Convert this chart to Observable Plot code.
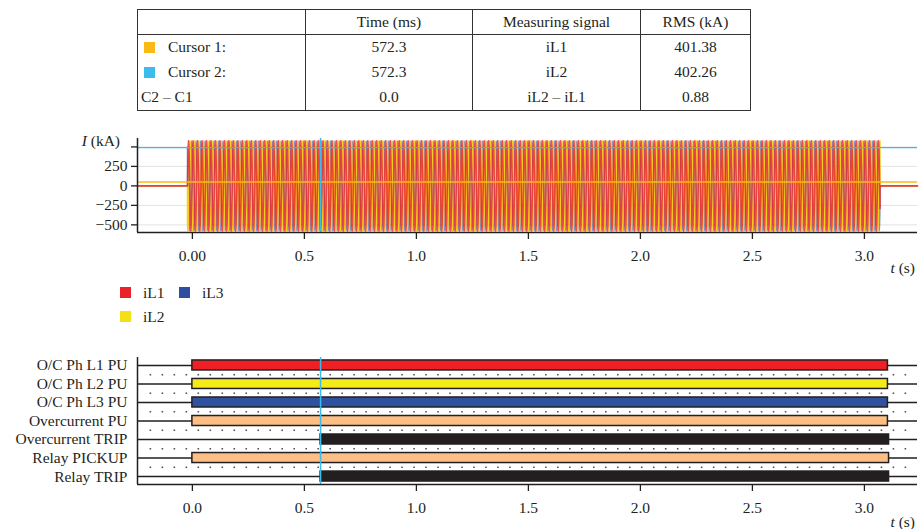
<!DOCTYPE html>
<html><head><meta charset="utf-8">
<script src="https://cdn.jsdelivr.net/npm/d3@7"></script>
<script src="https://cdn.jsdelivr.net/npm/@observablehq/plot@0.6"></script>
<style>
body{margin:0;background:#fff;font-family:"Liberation Serif","DejaVu Serif",serif;color:#231f20;}
#root{position:relative;width:919px;height:529px;overflow:hidden;background:#fff;}
.abs{position:absolute;}
#tbl{position:absolute;left:137px;top:9px;border-collapse:collapse;table-layout:fixed;font-size:15.5px;}
#tbl td{border-left:1.5px solid #333;border-right:1.5px solid #333;padding:0;text-align:center;white-space:nowrap;}
#tbl tr.h td{border-top:1.5px solid #333;border-bottom:1.5px solid #333;height:24px;}
#tbl tr.r td{height:24.5px;}
#tbl tr.last td{border-bottom:1.5px solid #333;height:25.5px;}
#tbl td.lab{text-align:left;}
.sq{display:inline-block;width:11px;height:11px;vertical-align:-1px;margin-left:6px;margin-right:13px;}
.leg{position:absolute;font-size:15.5px;line-height:15px;}
.legsq{position:absolute;width:11px;height:11px;}
svg{overflow:visible;}
</style>
</head><body><div id="root">
<table id="tbl"></table>
<div id="topchart" class="abs" style="left:0;top:128px;"></div>
<div class="abs" style="left:50px;top:132px;width:70px;text-align:right;font-size:15.5px;line-height:17px;"><i>I</i> (kA)</div>
<div class="abs" style="left:850px;top:259px;width:65px;text-align:right;font-size:15.5px;line-height:17px;"><i>t</i> (s)</div>
<div id="legend"></div>
<div id="botchart" class="abs" style="left:0;top:350px;"></div>
<div class="abs" style="left:850px;top:513px;width:65px;text-align:right;font-size:15.5px;line-height:17px;"><i>t</i> (s)</div>
</div>
<script>
// ---------- Table data ----------
const tableHeader = ["", "Time (ms)", "Measuring signal", "RMS (kA)"];
const tableRowLabels = ["Cursor 1:", "Cursor 2:", "C2 – C1"];
const tableTimes = ["572.3", "572.3", "0.0"];
const tableSignals = ["iL1", "iL2", "iL2 – iL1"];
const tableRms = ["401.38", "402.26", "0.88"];
const cursorColors = ["#fbb917", "#3bbcec"];

// ---------- Oscillogram data ----------
const phases = ["iL1", "iL2", "iL3"];
const phaseColors = ["#e8232a", "#f5df16", "#2e4f9f"];
const phaseAmplitude = [578, 575, 572];
const phaseShiftSamples = [0, 8, 4];
const cycleShape = [0, 0.5, 0.866, 1, 0.866, 0.5, 0, -0.5, -0.866, -1, -0.866, -0.5];
const frequencyHz = 50;
const faultStart = -0.022;
const faultEnd = 3.07;
const cursorTimes = [0.5723];
const cursorLevels = [50, 490];
const xDomain = [-0.245, 3.237];
const yDomain = [-598, 608];
const yTicks = [-500, -250, 0, 250, 500];
const xTicks = [0, 0.5, 1, 1.5, 2, 2.5, 3];

// ---------- Binary signals data ----------
const signalNames = ["O/C Ph L1 PU", "O/C Ph L2 PU", "O/C Ph L3 PU", "Overcurrent PU", "Overcurrent TRIP", "Relay PICKUP", "Relay TRIP"];
const signalStart = [0, 0, 0, 0, 0.5723, 0, 0.5723];
const signalEnd = [3.105, 3.105, 3.105, 3.105, 3.11, 3.11, 3.11];
const signalColors = ["#ee1f25", "#f3ec19", "#2f52a0", "#fdbf85", "#231f20", "#fdbf85", "#231f20"];

// ---------- Table ----------
const tbl = document.getElementById("tbl");
const colW = [168, 167, 168, 110];
let html = "<colgroup>" + colW.map(w => `<col style="width:${w}px">`).join("") + "</colgroup>";
html += `<tr class="h">` + tableHeader.map(h => `<td>${h}</td>`).join("") + "</tr>";
tableRowLabels.forEach((lab, i) => {
  const cls = i === tableRowLabels.length - 1 ? "r last" : "r";
  const first = cursorColors[i]
    ? `<span class="sq" style="background:${cursorColors[i]}"></span>${lab}`
    : `<span style="margin-left:3px">${lab}</span>`;
  html += `<tr class="${cls}"><td class="lab">${first}</td><td>${tableTimes[i]}</td><td>${tableSignals[i]}</td><td>${tableRms[i]}</td></tr>`;
});
tbl.innerHTML = html;

// ---------- Legend ----------
const legendPos = [[120, 287], [120, 311], [179, 287]];
const legend = document.getElementById("legend");
phases.forEach((p, i) => {
  const [lx, ly] = legendPos[i];
  legend.insertAdjacentHTML("beforeend",
    `<div class="legsq" style="left:${lx}px;top:${ly}px;background:${phaseColors[i]}"></div>` +
    `<div class="leg" style="left:${lx + 23}px;top:${ly - 2}px">${p}</div>`);
});

// ---------- Waveform table ----------
const spc = cycleShape.length;
const nSamples = Math.round((faultEnd - faultStart) * frequencyHz * spc);
const wave = [];
phases.forEach((p, pi) => {
  wave.push({phase: p, t: xDomain[0], v: 0}, {phase: p, t: faultStart, v: 0});
  for (let k = 0; k <= nSamples; k++) {
    wave.push({phase: p, t: faultStart + k / (frequencyHz * spc), v: phaseAmplitude[pi] * cycleShape[(k + phaseShiftSamples[pi]) % spc]});
  }
  wave.push({phase: p, t: faultEnd, v: 0}, {phase: p, t: xDomain[1], v: 0});
});

const style = {fontFamily: "'Liberation Serif', 'DejaVu Serif', serif", fontSize: "15.5px", color: "#231f20", background: "transparent", overflow: "visible"};
const ink = "#231f20";

const topPlot = Plot.plot({
  width: 919, height: 150,
  marginLeft: 137, marginRight: 2, marginTop: 10, marginBottom: 46,
  x: {domain: xDomain},
  y: {domain: yDomain},
  style,
  marks: [
    Plot.gridY(yTicks, {stroke: "#e2e2e2", strokeOpacity: 1}),
    Plot.line(wave.filter(d => d.phase === "iL3"), {x: "t", y: "v", stroke: phaseColors[2], strokeWidth: 1.4, strokeOpacity: 0.6}),
    Plot.line(wave.filter(d => d.phase === "iL2"), {x: "t", y: "v", stroke: "#f8cf12", strokeWidth: 1.4, strokeOpacity: 0.95}),
    Plot.line(wave.filter(d => d.phase === "iL1"), {x: "t", y: "v", stroke: phaseColors[0], strokeWidth: 1.6, strokeOpacity: 0.8}),
    Plot.ruleY([cursorLevels[0]], {stroke: cursorColors[0], strokeWidth: 1.5}),
    Plot.ruleY([cursorLevels[1]], {stroke: cursorColors[1], strokeWidth: 1.2}),
    Plot.ruleX(cursorTimes, {stroke: cursorColors[1], strokeWidth: 1.5}),
    Plot.ruleX([xDomain[0]], {stroke: ink, strokeWidth: 1.5}),
    Plot.ruleY([yDomain[0]], {stroke: ink, strokeWidth: 1.5}),
    Plot.axisX({ticks: xTicks, tickFormat: d => d === 0 ? "0.00" : d.toFixed(1), tickSize: 7, tickPadding: 10, label: null, stroke: ink, strokeWidth: 1.3}),
    Plot.axisY({ticks: yTicks, tickFormat: d => d === 500 ? "" : d3.format("d")(d), tickSize: 6, tickPadding: 4, label: null, stroke: ink, strokeWidth: 1.3})
  ]
});
document.getElementById("topchart").appendChild(topPlot);

// ---------- Bottom chart ----------
const rows = signalNames.map((name, i) => ({i, name, start: signalStart[i], end: signalEnd[i], color: signalColors[i]}));
const dotTimes = d3.range(-0.1875, 3.215, 0.0535);
const dotGrid = [];
for (let r = 0; r < signalNames.length - 1; r++) dotTimes.forEach(t => dotGrid.push({t, r: r + 0.5}));

const botPlot = Plot.plot({
  width: 919, height: 179,
  marginLeft: 137, marginRight: 2, marginTop: 7, marginBottom: 45,
  x: {domain: xDomain},
  y: {domain: [-0.43, 6.43], reverse: true},
  color: {type: "identity"},
  style,
  marks: [
    Plot.dot(dotGrid, {x: "t", y: "r", r: 0.9, symbol: "square", fill: "#555", stroke: null}),
    Plot.ruleY(rows, {y: "i", stroke: ink, strokeWidth: 1.5}),
    Plot.rect(rows, {x1: "start", x2: "end", y1: d => d.i - 0.27, y2: d => d.i + 0.27, fill: "color", stroke: ink, strokeWidth: 1.5}),
    Plot.ruleX(cursorTimes, {stroke: cursorColors[1], strokeWidth: 1.5}),
    Plot.ruleX([xDomain[0]], {stroke: ink, strokeWidth: 1.5}),
    Plot.ruleY([6.43], {stroke: ink, strokeWidth: 1.5}),
    Plot.axisX({ticks: xTicks, tickFormat: d => d.toFixed(1), tickSize: 7, tickPadding: 10, label: null, stroke: ink, strokeWidth: 1.3}),
    Plot.axisY({ticks: rows.map(d => d.i), tickFormat: i => signalNames[i], tickSize: 0, tickPadding: 10, label: null})
  ]
});
document.getElementById("botchart").appendChild(botPlot);
</script>
</body></html>
